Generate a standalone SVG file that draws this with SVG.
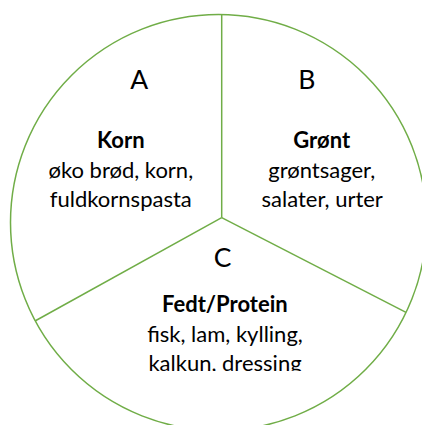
<svg xmlns="http://www.w3.org/2000/svg" width="422" height="425" viewBox="0 0 422 425">
<style>
.ln{fill:none;stroke:#70AD47;stroke-width:1.5}
.t{font-family:Lato,"Liberation Sans",sans-serif;fill:#000;text-anchor:middle}
.big{font-size:26.5px}
.b{font-size:22px;font-weight:bold}
.n{font-size:22px}
</style>
<defs>
<clipPath id="clip"><rect x="0" y="0" width="422" height="371"/></clipPath>
</defs>
<rect width="422" height="425" fill="#fff"/>
<g id="connectors">
<circle class="ln" cx="218.5" cy="222.5" r="208"/>
<line class="ln" x1="221.7" y1="14.5" x2="221.7" y2="217.7"/>
<line class="ln" x1="221.7" y1="217.7" x2="35" y2="321"/>
<line class="ln" x1="221.7" y1="217.7" x2="406" y2="312.3"/>
</g>
<g id="A">
<text class="t big" x="139.3" y="89.3">A</text>
<text class="t b" x="120.8" y="147.7">Korn</text>
<text class="t n" x="120.8" y="177.7">øko brød, korn,</text>
<text class="t n" x="120.8" y="206.7">fuldkornspasta</text>
</g>
<g id="B">
<text class="t big" x="306.7" y="89.3">B</text>
<text class="t b" x="321.7" y="147.7">Grønt</text>
<text class="t n" x="321.7" y="177.7">grøntsager,</text>
<text class="t n" x="322.2" y="206.7">salater, urter</text>
</g>
<g id="C">
<text class="t big" x="222.7" y="266.7">C</text>
<text class="t b" x="224.8" y="311.7">Fedt/Protein</text>
<text class="t n" x="225" y="341.7">fisk, lam, kylling,</text>
<text class="t n" x="225" y="371" clip-path="url(#clip)">kalkun, dressing</text>
</g>
</svg>
